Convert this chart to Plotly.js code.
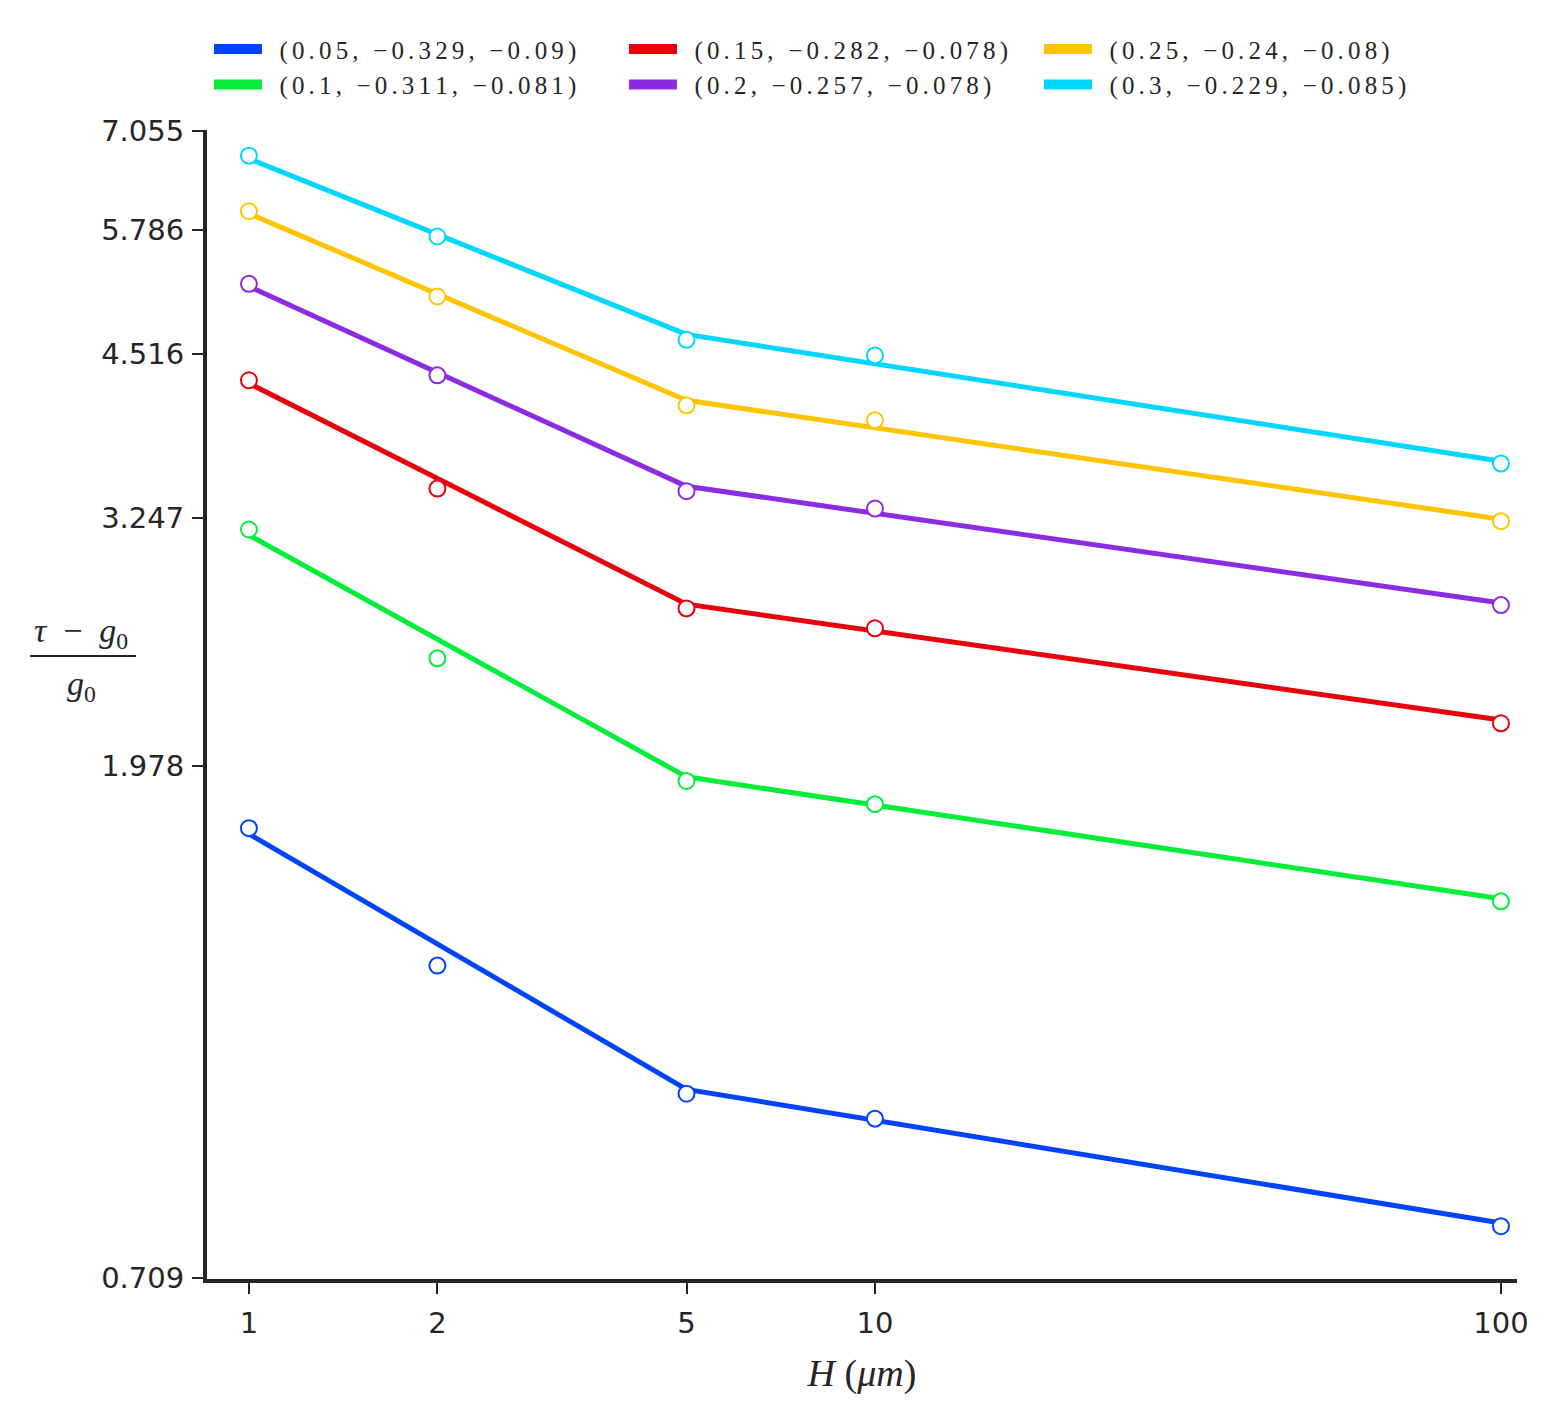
<!DOCTYPE html>
<html>
<head>
<meta charset="utf-8">
<script src="https://cdn.plot.ly/plotly-3.0.1.min.js"></script>
<style>
  body { margin: 0; background: #fff; }
</style>
</head>
<body>
<div id="myPlot"></div>
<script>
// measured points, H in micrometres
const H = [1, 2, 5, 10, 100];
const blue   = [1.746, 1.326, 1.026, 0.976, 0.787];
const green  = [3.175, 2.453, 1.919, 1.832, 1.508];
const red    = [4.280, 3.446, 2.711, 2.605, 2.154];
const purple = [5.192, 4.323, 3.428, 3.311, 2.729];
const yellow = [6.004, 5.062, 4.071, 3.951, 3.228];
const cyan   = [6.711, 5.708, 4.642, 4.499, 3.623];

// fitted lines (kink at H = 5)
const fitH = [1, 5, 100];
const blueFit   = [1.726, 1.035, 0.792];
const greenFit  = [3.139, 1.935, 1.516];
const redFit    = [4.254, 2.734, 2.168];
const purpleFit = [5.164, 3.462, 2.740];
const yellowFit = [5.976, 4.112, 3.241];
const cyanFit   = [6.670, 4.692, 3.640];

// legend parameters
const parA = [0.05, 0.1, 0.15, 0.2, 0.25, 0.3];
const parB = [-0.329, -0.311, -0.282, -0.257, -0.24, -0.229];
const parC = [-0.09, -0.081, -0.078, -0.078, -0.08, -0.085];
const legendRank = [1, 4, 2, 5, 3, 6];

const xTicks = [1, 2, 5, 10, 100];
const xTickText = ['1', '2', '5', '10', '100'];
const yTicks = [0.709, 1.978, 3.247, 4.516, 5.786, 7.055];
const yTickText = ['0.709', '1.978', '3.247', '4.516', '5.786', '7.055'];

const colors = ['#0043ff', '#03ed3a', '#e8000b', '#8b2be2', '#ffc400', '#00d7ff'];
const points = [blue, green, red, purple, yellow, cyan];
const fits = [blueFit, greenFit, redFit, purpleFit, yellowFit, cyanFit];

function num(v) {
  return String(v).replace('-', '\u2212');
}
function label(i) {
  let s = '(' + [parA[i], parB[i], parC[i]].map(num).join(', ') + ')';
  return '\u2002' + s.split('').join('\u2006');
}

let data = [];
for (let i = 0; i < 6; i++) {
  data.push({
    x: fitH, y: fits[i], mode: 'lines', type: 'scatter',
    line: {color: colors[i], width: 5},
    showlegend: false, hoverinfo: 'skip'
  });
}
for (let i = 0; i < 6; i++) {
  data.push({
    x: H, y: points[i], mode: 'markers', type: 'scatter',
    marker: {symbol: 'circle', size: 16, color: 'white', line: {color: colors[i], width: 2}},
    showlegend: false
  });
}
// legend-only entries
for (let i = 0; i < 6; i++) {
  data.push({
    x: [null], y: [null], mode: 'lines', type: 'scatter',
    line: {color: colors[i], width: 10},
    name: label(i), legendrank: legendRank[i], showlegend: true
  });
}

const axisColor = '#262626';
const pw = 1558 - 207 - 41, ph = 1423 - 130 - 144;

var layout = {
  width: 1558,
  height: 1423,
  margin: {l: 207, r: 41, t: 130, b: 144, autoexpand: false},
  paper_bgcolor: 'white',
  plot_bgcolor: 'white',
  legend: {
    orientation: 'h', x: 0.0015, xanchor: 'left', y: 1.0903, yanchor: 'top',
    font: {family: 'Liberation Serif', size: 25, color: axisColor},
    itemwidth: 48, entrywidth: 352, entrywidthmode: 'pixels',
    bgcolor: 'rgba(0,0,0,0)'
  },
  xaxis: {
    type: 'log', range: [-0.067, 2.0256],
    tickvals: xTicks, ticktext: xTickText,
    ticks: 'outside', ticklen: 11, tickwidth: 2, tickcolor: axisColor,
    showline: true, linewidth: 4, linecolor: axisColor,
    showgrid: false, zeroline: false,
    ticklabelstandoff: 4,
    tickfont: {family: 'DejaVu Sans', size: 29, color: axisColor},
    title: {text: '<i>H</i>\u00a0(<i>μm</i>)', standoff: 22,
      font: {family: 'Liberation Serif', size: 38, color: axisColor}}
  },
  yaxis: {
    type: 'log',
    range: [Math.log10(yTicks[0]) - 0.0006, Math.log10(yTicks[yTicks.length - 1]) + 0.0006],
    tickvals: yTicks, ticktext: yTickText,
    ticks: 'outside', ticklen: 11, tickwidth: 2, tickcolor: axisColor,
    showline: true, linewidth: 4, linecolor: axisColor,
    showgrid: false, zeroline: false,
    ticklabelstandoff: 2,
    tickfont: {family: 'DejaVu Sans', size: 29, color: axisColor}
  },
  annotations: [
    {xref: 'paper', yref: 'paper', x: (81 - 207) / pw, y: (1279 - 633) / ph,
     xanchor: 'center', yanchor: 'middle',
     text: '<i>τ</i>\u00a0\u00a0−\u00a0\u00a0<i>g</i><sub>0</sub>', showarrow: false,
     font: {family: 'Liberation Serif', size: 34, color: axisColor}},
    {xref: 'paper', yref: 'paper', x: (82 - 207) / pw, y: (1279 - 686) / ph,
     xanchor: 'center', yanchor: 'middle',
     text: '<i>g</i><sub>0</sub>', showarrow: false,
     font: {family: 'Liberation Serif', size: 34, color: axisColor}}
  ],
  shapes: [
    {type: 'line', xref: 'paper', yref: 'paper',
     x0: (30 - 207) / pw, x1: (136 - 207) / pw, y0: (1279 - 656) / ph, y1: (1279 - 656) / ph,
     line: {color: axisColor, width: 2}}
  ]
};

Plotly.newPlot('myPlot', data, layout, {displayModeBar: false});
</script>
</body>
</html>
